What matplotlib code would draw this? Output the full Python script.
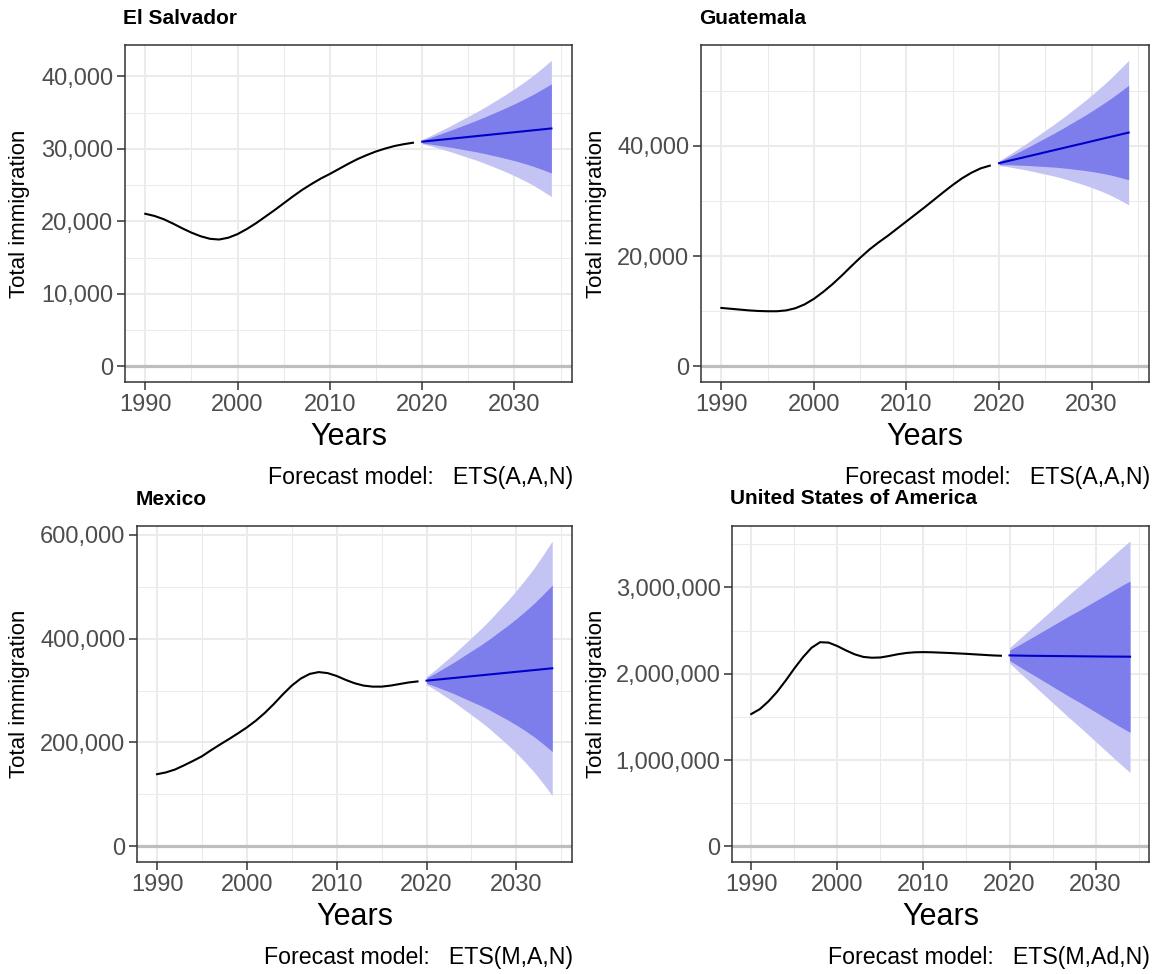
import matplotlib
matplotlib.use("Agg")
import matplotlib.pyplot as plt
from matplotlib.ticker import MultipleLocator, FuncFormatter

plt.rcParams['font.family'] = ['Liberation Sans', 'DejaVu Sans']

W, H = 1155, 974

hist_years = list(range(1990, 2020))
fc_years = list(range(2020, 2035))

# ---- El Salvador ----
es_hist = [21050, 20750, 20300, 19700, 19050, 18450, 17950, 17600, 17500, 17750,
           18250, 18950, 19750, 20650, 21550, 22500, 23450, 24350, 25150, 25900,
           26550, 27250, 27950, 28600, 29150, 29650, 30050, 30400, 30650, 30850]
es_mean = [31000, 31130, 31260, 31390, 31520, 31650, 31780, 31910, 32040, 32170,
           32300, 32430, 32560, 32690, 32820]
es_hi95 = [31300, 31880, 32510, 33140, 33820, 34500, 35180, 35910, 36690, 37470,
           38300, 39180, 40110, 41140, 42220]
es_lo95 = [30700, 30380, 30010, 29640, 29220, 28800, 28380, 27910, 27390, 26870,
           26300, 25680, 25010, 24240, 23420]
es_hi80 = [31200, 31620, 32080, 32540, 33020, 33510, 34000, 34530, 35080, 35640,
           36220, 36850, 37500, 38220, 38970]
es_lo80 = [30800, 30640, 30440, 30250, 30020, 29790, 29560, 29290, 29000, 28700,
           28380, 28020, 27620, 27160, 26670]

# ---- Guatemala ----
gt_hist = [10600, 10450, 10300, 10150, 10050, 10000, 10000, 10150, 10550, 11250,
           12250, 13500, 14900, 16450, 18100, 19700, 21200, 22500, 23700, 25000,
           26300, 27600, 28900, 30250, 31600, 32900, 34100, 35100, 35900, 36400]
gt_mean = [36850, 37250, 37640, 38040, 38430, 38830, 39230, 39620, 40020, 40410,
           40810, 41210, 41600, 42000, 42400]
gt_hi95 = [37270, 38300, 39380, 40480, 41640, 42800, 43970, 45200, 46500, 47800,
           49170, 50620, 52130, 53780, 55500]
gt_lo95 = [36430, 36200, 35900, 35600, 35230, 34860, 34490, 34050, 33540, 33020,
           32450, 31800, 31080, 30220, 29300]
gt_hi80 = [37130, 37930, 38780, 39640, 40530, 41430, 42330, 43270, 44260, 45240,
           46280, 47360, 48480, 49700, 50970]
gt_lo80 = [36580, 36570, 36500, 36440, 36330, 36230, 36130, 35970, 35780, 35580,
           35340, 35060, 34720, 34300, 33830]

# ---- Mexico ----
mx_hist = [139000, 142500, 148000, 156000, 164500, 173500, 185000, 196000, 206500, 217500,
           229000, 242000, 257000, 274000, 292500, 309500, 323000, 332000, 335500, 333500,
           328000, 320500, 314000, 309500, 307500, 307500, 309500, 312500, 315500, 317500]
mx_mean = [319000, 320700, 322400, 324100, 325800, 327500, 329200, 330900, 332600, 334300,
           336000, 337700, 339400, 341100, 342800]
mx_hi95 = [326800, 340200, 355000, 369700, 385700, 401800, 417800, 435100, 453800, 472400,
           492400, 513600, 536200, 561300, 587800]
mx_lo95 = [311200, 301200, 289800, 278500, 265900, 253200, 240600, 226700, 211400, 196200,
           179600, 161800, 142600, 120900, 97800]
mx_hi80 = [324100, 333500, 343700, 353900, 365000, 376100, 387100, 399000, 411900, 424600,
           438300, 452700, 468100, 485100, 503000]
mx_lo80 = [313900, 308000, 301100, 294300, 286600, 278900, 271300, 262800, 253300, 244000,
           233700, 222700, 210700, 197100, 182600]

# ---- United States of America (thousands) ----
us_hist = [1533, 1590, 1680, 1790, 1920, 2060, 2190, 2300, 2365, 2360,
           2320, 2270, 2225, 2195, 2185, 2188, 2205, 2225, 2240, 2248,
           2250, 2248, 2244, 2240, 2235, 2230, 2224, 2218, 2212, 2208]
us_mean = [2212, 2210, 2208, 2207, 2206, 2205, 2204, 2203, 2202, 2201,
           2200, 2199, 2198, 2198, 2197]
us_hi95 = [2302, 2390, 2478, 2567, 2656, 2745, 2834, 2923, 3007, 3096,
           3185, 3274, 3363, 3453, 3537]
us_lo95 = [2122, 2030, 1938, 1847, 1756, 1665, 1574, 1483, 1397, 1306,
           1215, 1124, 1033, 943, 857]
us_hi80 = [2271, 2328, 2385, 2442, 2500, 2558, 2616, 2674, 2728, 2786,
           2844, 2902, 2960, 3019, 3073]
us_lo80 = [2153, 2092, 2031, 1972, 1912, 1852, 1792, 1732, 1676, 1616,
           1556, 1496, 1436, 1377, 1321]

fig = plt.figure(figsize=(W / 100, H / 100), dpi=100)


def fx(x):
    return x / W


def fy(y):
    return 1 - y / H


def panel(rect, title, title_y, model, ylab_x, hist, mean, lo95, lo80, hi80, hi95,
          ystep, scale=1):
    l, t, r, b = rect
    ax = fig.add_axes([fx(l), fy(b), (r - l) / W, (b - t) / H])
    hist = [v * scale for v in hist]
    mean = [v * scale for v in mean]
    lo95 = [v * scale for v in lo95]
    lo80 = [v * scale for v in lo80]
    hi80 = [v * scale for v in hi80]
    hi95 = [v * scale for v in hi95]

    ax.axhline(0, color="#BEBEBE", lw=2.3, zorder=1)
    ax.fill_between(fc_years, lo95, hi95, color="#C4C4F4", lw=0, zorder=2)
    ax.fill_between(fc_years, lo80, hi80, color="#7D7DEC", lw=0, zorder=3)
    ax.plot(fc_years, mean, color="#0000C8", lw=1.5, zorder=4)
    ax.plot(hist_years, hist, color="black", lw=1.5, zorder=4)

    ymax = max(max(hist), max(hi95))
    ax.set_ylim(-0.05 * ymax, 1.05 * ymax)
    xpad = 0.05 * (fc_years[-1] - hist_years[0])
    ax.set_xlim(hist_years[0] - xpad, fc_years[-1] + xpad)

    ax.xaxis.set_major_locator(MultipleLocator(10))
    ax.xaxis.set_minor_locator(MultipleLocator(5))
    ax.yaxis.set_major_locator(MultipleLocator(ystep))
    ax.yaxis.set_minor_locator(MultipleLocator(ystep / 2))
    ax.yaxis.set_major_formatter(FuncFormatter(lambda v, p: f"{int(round(v)):,}"))

    ax.set_axisbelow(True)
    ax.grid(which="major", color="#EBEBEB", lw=1.5)
    ax.grid(which="minor", color="#EBEBEB", lw=0.75)
    for s in ax.spines.values():
        s.set_color("#333333")
        s.set_linewidth(1.1)
    ax.tick_params(which="major", length=5.5, width=1.1, color="#333333",
                   labelsize=17, labelcolor="#4D4D4D", pad=3)
    ax.tick_params(which="minor", length=0)

    fig.text(fx(l - 2), fy(title_y), title, fontsize=15, fontweight="bold",
             ha="left", va="center")
    fig.text(fx((l + r) / 2), fy(b + 55), "Years", fontsize=22,
             ha="center", va="center")
    fig.text(fx(ylab_x), fy((t + b) / 2), "Total immigration", fontsize=16,
             rotation=90, ha="center", va="center")
    fig.text(fx(r + 1), fy(b + 96), "Forecast model:   " + model, fontsize=16.7,
             ha="right", va="center")
    return ax


panel((125, 45, 571.7, 381.7), "El Salvador", 18, "ETS(A,A,N)", 20,
      es_hist, es_mean, es_lo95, es_lo80, es_hi80, es_hi95, 10000)
panel((701, 45, 1149, 381.7), "Guatemala", 18, "ETS(A,A,N)", 597,
      gt_hist, gt_mean, gt_lo95, gt_lo80, gt_hi80, gt_hi95, 20000)
panel((137.3, 525.7, 572, 861.7), "Mexico", 500, "ETS(M,A,N)", 20,
      mx_hist, mx_mean, mx_lo95, mx_lo80, mx_hi80, mx_hi95, 200000)
panel((732.3, 525.7, 1149, 861.7), "United States of America", 498, "ETS(M,Ad,N)", 597,
      us_hist, us_mean, us_lo95, us_lo80, us_hi80, us_hi95, 1000000, scale=1000)

fig.savefig("out.png", dpi=100)
